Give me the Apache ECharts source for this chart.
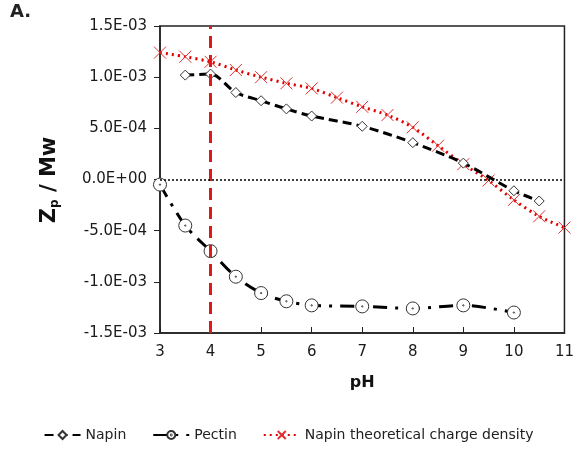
<!DOCTYPE html>
<html>
<head>
<meta charset="utf-8">
<script src="https://cdn.jsdelivr.net/npm/echarts@6/dist/echarts.min.js"></script>
<style>
  html, body { margin: 0; padding: 0; background: #fff; }
  #chart { width: 577px; height: 454px; }
</style>
</head>
<body>
<div id="chart"></div>
<script>
// 数据 (pH vs Zp/Mw)
const napinPH = [3.5, 4, 4.5, 5, 5.5, 6, 7, 8, 9, 10, 10.5];
const napinZ = [1.02e-3, 1.03e-3, 0.85e-3, 0.77e-3, 0.69e-3, 0.62e-3, 0.52e-3, 0.36e-3, 0.16e-3, -0.11e-3, -0.21e-3];

const pectinPH = [3, 3.5, 4, 4.5, 5, 5.5, 6, 7, 8, 9, 10];
const pectinZ = [-0.05e-3, -0.45e-3, -0.70e-3, -0.95e-3, -1.11e-3, -1.19e-3, -1.23e-3, -1.24e-3, -1.26e-3, -1.23e-3, -1.30e-3];

const theoPH = [3, 3.5, 4, 4.5, 5, 5.5, 6, 6.5, 7, 7.5, 8, 8.5, 9, 9.5, 10, 10.5, 11];
const theoZ = [1.24e-3, 1.20e-3, 1.15e-3, 1.07e-3, 1.00e-3, 0.94e-3, 0.89e-3, 0.80e-3, 0.71e-3, 0.63e-3, 0.51e-3, 0.33e-3, 0.15e-3, -0.01e-3, -0.20e-3, -0.36e-3, -0.47e-3];

const seriesNames = ['Napin', 'Pectin', 'Napin theoretical charge density'];
const markPH = 4;

const zip = (xs, ys) => xs.map((x, i) => [x, ys[i]]);
const FONT = 'DejaVu Sans';

// 1.5E-03 这种格式
function sciLabel(v) {
  if (Math.abs(v) < 1e-12) v = 0;
  const parts = v.toExponential(1).split('e');
  let exp = parseInt(parts[1], 10);
  const sign = exp < 0 ? '-' : '+';
  exp = Math.abs(exp);
  return parts[0] + 'E' + sign + (exp < 10 ? '0' + exp : exp);
}

const chart = echarts.init(document.getElementById('chart'));
const option = {
  animation: false,
  textStyle: { fontFamily: FONT },
  grid: {
    left: 160, right: 9, top: 26, bottom: 121,
    show: true, borderColor: '#222', borderWidth: 1.5,
  },
  graphic: [
    {
      type: 'text', left: 10, top: 3,
      style: { text: 'A.', font: 'bold 18px ' + FONT, fill: '#222' },
    },
    {
      type: 'text', x: 50, y: 180, rotation: Math.PI / 2,
      style: {
        text: '{z|Z}{p|p}{t| / Mw}',
        align: 'center', verticalAlign: 'middle',
        rich: {
          z: { font: 'bold 21px ' + FONT, fill: '#111' },
          p: { font: 'bold 12px ' + FONT, fill: '#111', verticalAlign: 'bottom', padding: [10, 0, 0, 0] },
          t: { font: 'bold 21px ' + FONT, fill: '#111' },
        },
      },
    },
  ],
  legend: {
    data: seriesNames,
    bottom: 7,
    left: 'center',
    itemWidth: 36,
    itemHeight: 10,
    itemGap: 26,
    textStyle: { fontFamily: FONT, fontSize: 14, color: '#222' },
  },
  xAxis: {
    type: 'value',
    min: 3, max: 11, interval: 1,
    name: 'pH',
    nameLocation: 'middle',
    nameGap: 42,
    nameTextStyle: { fontFamily: FONT, fontSize: 16, fontWeight: 'bold', color: '#111' },
    axisLine: { onZero: false, lineStyle: { color: '#222', width: 1.5 } },
    axisTick: { inside: true, length: 6, lineStyle: { color: '#222' } },
    axisLabel: { fontSize: 15, color: '#1a1a1a', margin: 12 },
    splitLine: { show: false },
  },
  yAxis: {
    type: 'value',
    min: -1.5e-3, max: 1.5e-3, interval: 5e-4,
    axisLine: { show: true, lineStyle: { color: '#222', width: 1.5 } },
    axisTick: { show: true, inside: false, length: 6, lineStyle: { color: '#222' } },
    axisLabel: { fontSize: 15, color: '#1a1a1a', margin: 13, formatter: sciLabel },
    splitLine: { show: false },
  },
  series: [
    {
      name: seriesNames[0],
      type: 'line',
      data: zip(napinPH, napinZ),
      smooth: 0.3,
      symbol: 'diamond',
      symbolSize: 10,
      itemStyle: { color: '#fff', borderColor: '#333', borderWidth: 1 },
      lineStyle: { color: '#000', width: 3, type: [9, 5] },
      z: 3,
      markLine: {
        silent: true,
        symbol: 'none',
        label: { show: false },
        data: [
          { xAxis: markPH, lineStyle: { color: '#e01818', width: 3, type: [12, 7] } },
          { yAxis: 0, lineStyle: { color: '#000', width: 1.5, type: [2, 2] } },
        ],
      },
    },
    {
      name: seriesNames[1],
      type: 'line',
      data: zip(pectinPH, pectinZ),
      smooth: 0.3,
      // 圆圈 + 中心小点
      symbol: 'path://M10,0A10,10,0,1,1,9.99,0ZM10,9A1,1,0,1,1,9.99,9Z',
      symbolSize: 13,
      itemStyle: { color: '#fff', borderColor: '#333', borderWidth: 1 },
      lineStyle: { color: '#000', width: 3, type: [14, 8, 3, 8] },
      z: 3,
    },
    {
      name: seriesNames[2],
      type: 'line',
      data: zip(theoPH, theoZ),
      smooth: 0.3,
      symbol: 'path://M0,0L10,10M10,0L0,10',
      symbolSize: 12,
      itemStyle: { color: 'none', borderColor: '#e03030', borderWidth: 1 },
      lineStyle: { color: '#e00000', width: 3, type: [2, 4] },
      z: 2,
    },
  ],
};
chart.setOption(option);
</script>
</body>
</html>
